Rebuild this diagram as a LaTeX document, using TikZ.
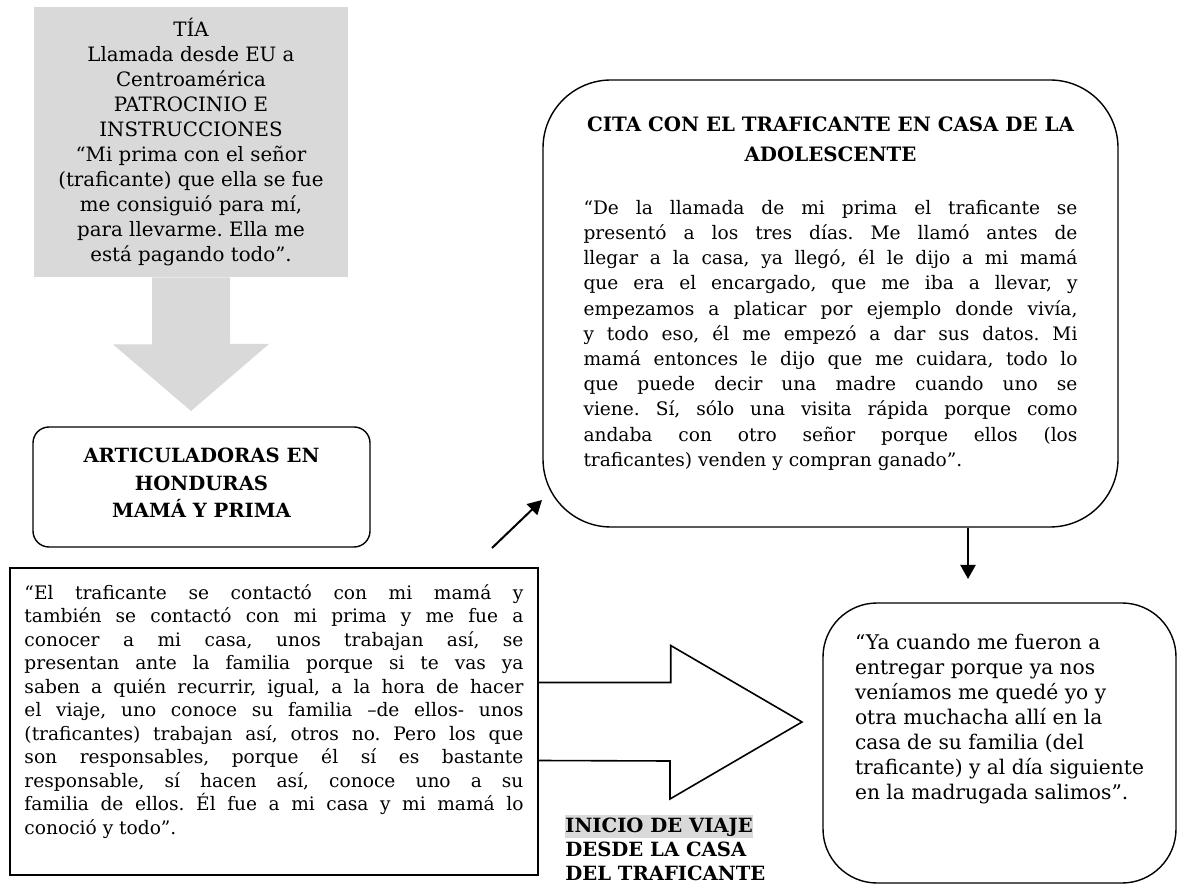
\documentclass[tikz,border=0pt]{standalone}
\usepackage{fontspec}
\setmainfont{DejaVu Serif}
\usetikzlibrary{arrows.meta}

\definecolor{tiagray}{RGB}{217,217,217}
\frenchspacing

\begin{document}
\begin{tikzpicture}[x=0.5pt,y=0.5pt,yscale=-1,
	frame/.style={draw, line width=0.7pt, inner sep=0pt},
	arr/.style={line width=1pt, -{Triangle[length=7pt,width=7.5pt]}}]
		\useasboundingbox (0,0) rectangle (1177,886);
		\setlength{\fboxsep}{0pt}

		% Gray box with the call from the aunt
		\node[fill=tiagray, inner sep=0pt, minimum width=157pt, minimum height=135pt, align=center, font=\fontsize{9.9}{12.5}\selectfont] (tia) at (191,142)
		{TÍA\\Llamada desde EU a\\Centroamérica\\PATROCINIO E\\INSTRUCCIONES\\“Mi prima con el señor\\(traficante) que ella se fue\\me consiguió para mí,\\para llevarme. Ella me\\está pagando todo”.};

		% Gray block arrow going down from the aunt
		\coordinate (tiatip) at (191,411);
		\fill[tiagray] ([xshift=-19.5pt]tia.south) -- ++(0,67) -- ++(-39,0) -- (tiatip) -- ++(78,-67) -- ++(-39,0) -- ([xshift=19.5pt]tia.south) -- cycle;

		% Rounded box with the mother and the cousin
		\node[frame, rounded corners=8pt, minimum width=168.5pt, minimum height=60pt, align=center, font=\bfseries\fontsize{9.8}{13.75}\selectfont] (artic) at (201.5,487)
		{ARTICULADORAS EN\\HONDURAS\\MAMÁ Y PRIMA\\[-9.75pt]};

		% Square box with the first quote
		\node[frame, minimum width=264pt, minimum height=153.5pt, text width=249.5pt, align=justify, font=\fontsize{9.3}{11.75}\selectfont] (relato) at (274,721.5)
		{“El traficante se contactó con mi mamá y\linebreak
		también se contactó con mi prima y me fue a\linebreak
		conocer a mi casa, unos trabajan así, se\linebreak
		presentan ante la familia porque si te vas ya\linebreak
		saben a quién recurrir, igual, a la hora de hacer\linebreak
		el viaje, uno conoce su familia –de ellos- unos\linebreak
		(traficantes) trabajan así, otros no. Pero los que\linebreak
		son responsables, porque él sí es bastante\linebreak
		responsable, sí hacen así, conoce uno a su\linebreak
		familia de ellos. Él fue a mi casa y mi mamá lo\linebreak
		conoció y todo”.\par\kern10pt};

		% Big rounded box with the meeting at home
		\node[frame, rounded corners=34pt, minimum width=287.5pt, minimum height=223.5pt, text width=247pt, align=justify, font=\fontsize{9.3}{12.6}\selectfont] (cita) at (830.5,303.5)
		{{\centering\bfseries\fontsize{9.9}{15}\selectfont CITA CON EL TRAFICANTE EN CASA DE LA\\ADOLESCENTE\par}\vspace{14pt}
		“De la llamada de mi prima el traficante se\linebreak
		presentó a los tres días. Me llamó antes de\linebreak
		llegar a la casa, ya llegó, él le dijo a mi mamá\linebreak
		que era el encargado, que me iba a llevar, y\linebreak
		empezamos a platicar por ejemplo donde vivía,\linebreak
		y todo eso, él me empezó a dar sus datos. Mi\linebreak
		mamá entonces le dijo que me cuidara, todo lo\linebreak
		que puede decir una madre cuando uno se\linebreak
		viene. Sí, sólo una visita rápida porque como\linebreak
		andaba con otro señor porque ellos (los\linebreak
		traficantes) venden y compran ganado”.\par\kern10pt};

		% Rounded box with the departure
		\node[frame, rounded corners=27pt, minimum width=176.5pt, minimum height=140pt, align=left, font=\fontsize{10.1}{12.5}\selectfont] (salida) at (999.5,743)
		{“Ya cuando me fueron a\\entregar porque ya nos\\veníamos me quedé yo y\\otra muchacha allí en la\\casa de su familia (del\\traficante) y al día siguiente\\en la madrugada salimos”.\\[13.5pt]};

		% Label under the white block arrow
		\node[inner sep=0pt, anchor=north west, align=left, font=\bfseries\fontsize{9.8}{12}\selectfont] (inicio) at (565,815)
		{\colorbox{tiagray}{\rule[-3pt]{0pt}{11.5pt}INICIO DE VIAJE}\\DESDE LA CASA\\DEL TRAFICANTE};

		% Thin arrows between the boxes
		\coordinate (diagfrom) at (492,548);
		\coordinate (diagto) at (542,500);
		\draw[arr] (diagfrom) -- (diagto);

		\coordinate (downto) at (968,579);
		\draw[arr] (cita.south -| downto) -- (downto);

		% White block arrow from the quote to the departure
		\coordinate (viajetip) at (802,722);
		\path (relato.east) ++(0,-39) coordinate (shafttop) ++(0,78) coordinate (shaftbot);
		\draw[line width=0.8pt] (shafttop) -- ++(132,0) -- ++(0,-37) -- (viajetip) -- ++(-132,77) -- ++(0,-38) -- (shaftbot);
	\end{tikzpicture}
\end{document}
